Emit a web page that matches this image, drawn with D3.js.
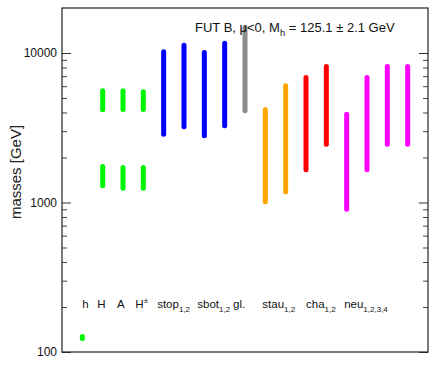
<!DOCTYPE html>
<html>
<head>
<meta charset="utf-8">
<script src="https://cdn.jsdelivr.net/npm/d3@7"></script>
<style>
  body { margin: 0; background: #fff; }
  text { font-family: "Liberation Sans", Arial, sans-serif; }
</style>
</head>
<body>
<div id="chart"></div>
<script>
// particles, one column each
const particles = ["h", "H", "A", "H±", "stop1", "stop2", "sbot1", "sbot2", "gl", "stau1", "stau2", "cha1", "cha2", "neu1", "neu2", "neu3", "neu4"];
const particleType = ["higgs", "higgs", "higgs", "higgs", "squark", "squark", "squark", "squark", "gluino", "stau", "stau", "chargino", "chargino", "neutralino", "neutralino", "neutralino", "neutralino"];

// mass ranges (GeV); heavy higgses come in two clusters
const segParticle = ["h", "H", "H", "A", "A", "H±", "H±", "stop1", "stop2", "sbot1", "sbot2", "gl", "stau1", "stau2", "cha1", "cha2", "neu1", "neu2", "neu3", "neu4"];
const segMin = [123.0, 1293, 4169, 1247, 4188, 1247, 4188, 2863, 3209, 2794, 3260, 4106, 1011, 1179, 1654, 2455, 902, 1654, 2455, 2455];
const segMax = [127.2, 1741, 5587, 1714, 5587, 1714, 5502, 10186, 11277, 10077, 11629, 14811, 4169, 6033, 6858, 8122, 3895, 6858, 8122, 8122];

const majorTicks = [100, 1000, 10000];
const minorTicks = [200, 300, 400, 500, 600, 700, 800, 900, 2000, 3000, 4000, 5000, 6000, 7000, 8000, 9000];

const w = 445;
const h = 371;
const plotL = 62, plotR = 428, plotT = 8, plotB = 352;

const svg = d3.select("#chart")
      .append("svg")
      .attr("width", w)
      .attr("height", h);

const x = d3.scalePoint()
      .domain(particles)
      .range([plotL, plotR])
      .padding(1);

const y = d3.scaleLog()
      .domain([100, 20000])
      .range([plotB, plotT]);

const color = d3.scaleOrdinal()
      .domain(["higgs", "squark", "gluino", "stau", "chargino", "neutralino"])
      .range(["#00f500", "#0000ff", "#8c8c8c", "#ffa500", "#ff0000", "#ff00ff"]);

const typeOf = (p) => particleType[particles.indexOf(p)];

//axes, ticks pointing inwards on both sides
const yFmt = d3.format("d");
svg.append("g")
      .attr("transform", `translate(${plotL},0)`)
      .call(d3.axisLeft(y).tickValues(majorTicks).tickSizeInner(-9).tickSizeOuter(0).tickPadding(5).tickFormat(yFmt))
      .call(g => g.select(".domain").remove())
      .call(g => g.selectAll("line").attr("stroke", "#333"))
      .call(g => g.selectAll("text").attr("font-size", 12).attr("fill", "#111"));

svg.append("g")
      .attr("transform", `translate(${plotL},0)`)
      .call(d3.axisLeft(y).tickValues(minorTicks).tickSizeInner(-5).tickSizeOuter(0).tickFormat(""))
      .call(g => g.select(".domain").remove())
      .call(g => g.selectAll("line").attr("stroke", "#444"));

svg.append("g")
      .attr("transform", `translate(${plotR},0)`)
      .call(d3.axisRight(y).tickValues(majorTicks).tickSizeInner(-9).tickSizeOuter(0).tickFormat(""))
      .call(g => g.select(".domain").remove())
      .call(g => g.selectAll("line").attr("stroke", "#333"));

svg.append("g")
      .attr("transform", `translate(${plotR},0)`)
      .call(d3.axisRight(y).tickValues(minorTicks).tickSizeInner(-5).tickSizeOuter(0).tickFormat(""))
      .call(g => g.select(".domain").remove())
      .call(g => g.selectAll("line").attr("stroke", "#444"));

//frame
svg.append("rect")
      .attr("x", plotL)
      .attr("y", plotT)
      .attr("width", plotR - plotL)
      .attr("height", plotB - plotT)
      .attr("fill", "none")
      .attr("stroke", "#222")
      .attr("stroke-width", 1.2);

//mass ranges
const segs = segParticle.map((p, i) => ({ p: p, lo: segMin[i], hi: segMax[i] }));
svg.append("g").selectAll("line")
      .data(segs)
      .enter()
      .append("line")
      .attr("x1", (d) => x(d.p))
      .attr("x2", (d) => x(d.p))
      .attr("y1", (d) => y(d.hi))
      .attr("y2", (d) => y(d.lo))
      .attr("stroke", (d) => color(typeOf(d.p)))
      .attr("stroke-width", 5)
      .attr("stroke-linecap", "round");

//y label
svg.append("text")
      .attr("transform", `translate(21,${(plotT + plotB) / 2 - 8}) rotate(-90)`)
      .attr("text-anchor", "middle")
      .attr("font-size", 15)
      .attr("fill", "#222")
      .text("masses [GeV]");

//title
const title = svg.append("text")
      .attr("x", 195)
      .attr("y", 32)
      .attr("font-size", 13)
      .attr("fill", "#111");
title.append("tspan").text("FUT B, \u03bc<0, M");
title.append("tspan").attr("font-size", 9.5).attr("dy", 4).text("h");
title.append("tspan").attr("dy", -4).text(" = 125.1 \u00b1 2.1 GeV");

//particle names
const nameParts = [
      ["h", ""], ["H", ""], ["A", ""], ["H", "sup:\u00b1"], ["stop", "sub:1,2"], ["sbot", "sub:1,2"],
      ["gl.", ""], ["stau", "sub:1,2"], ["cha", "sub:1,2"], ["neu", "sub:1,2,3,4"]
];
const nameStart = [0, 1, 2, 3, 4, 6, 8, 9, 11, 13]; // first column of each name
const nameShift = [0, -5.5, -6, -8, -6.5, -7, -12, -3, 0, -2.5];

const names = svg.append("g").selectAll("text")
      .data(nameParts)
      .enter()
      .append("text")
      .attr("x", (d, i) => x(particles[nameStart[i]]) + nameShift[i])
      .attr("y", 308)
      .attr("font-size", 11.5)
      .attr("fill", "#111");
names.append("tspan").text((d) => d[0]);
names.filter((d) => d[1] !== "")
      .append("tspan")
      .attr("font-size", 8)
      .attr("dy", (d) => d[1].startsWith("sub") ? 4 : -5)
      .text((d) => d[1].slice(4));
</script>
</body>
</html>
